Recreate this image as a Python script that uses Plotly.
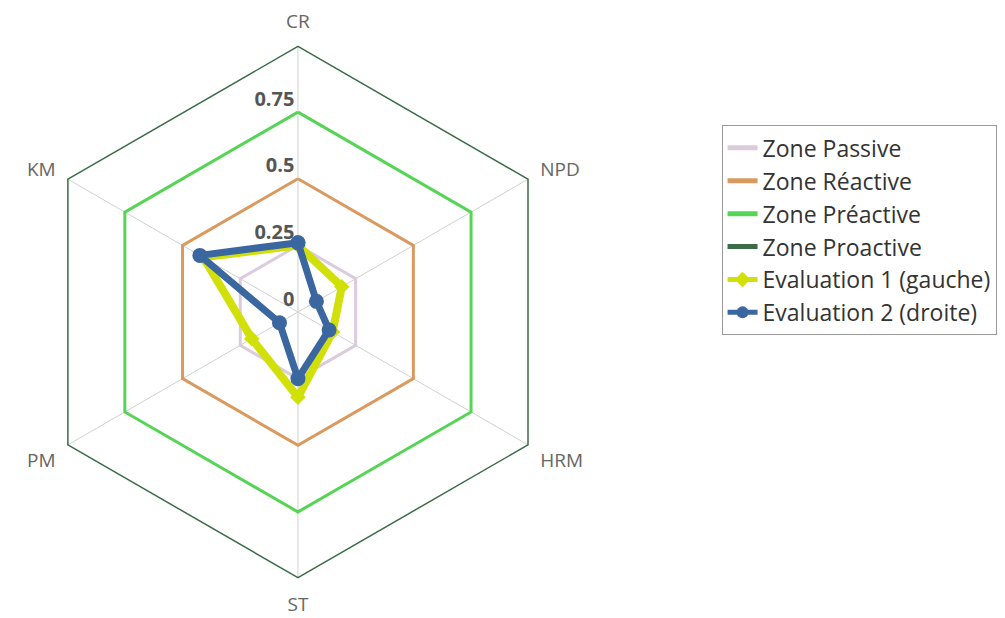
import plotly.graph_objects as go

categories = ["CR", "NPD", "HRM", "ST", "PM", "KM"]

zone_names = ["Zone Passive", "Zone Réactive", "Zone Préactive", "Zone Proactive"]
zone_levels = [0.25, 0.5, 0.75, 1.0]
zone_colors = ["#dccbdc", "#d9995f", "#55d455", "#3b6b47"]

eval1_name = "Evaluation 1 (gauche)"
eval1_values = [0.25, 0.19, 0.15, 0.32, 0.20, 0.41]
eval2_name = "Evaluation 2 (droite)"
eval2_values = [0.26, 0.08, 0.135, 0.25, 0.08, 0.425]

radial_ticks = [0, 0.25, 0.5, 0.75]
radial_ticktext = ["0", "0.25", "0.5", "0.75"]

closed_cats = categories + [categories[0]]

fig = go.Figure()

for name, lvl, col in zip(zone_names, zone_levels, zone_colors):
    fig.add_trace(go.Scatterpolar(
        r=[lvl] * len(closed_cats),
        theta=closed_cats,
        mode="lines",
        name=name,
        line=dict(color=col, width=3),
        hoverinfo="skip",
    ))

fig.add_trace(go.Scatterpolar(
    r=eval1_values + [eval1_values[0]],
    theta=closed_cats,
    mode="lines+markers",
    name=eval1_name,
    line=dict(color="#d2e00a", width=8),
    marker=dict(symbol="diamond", size=12, color="#d2e00a"),
))

fig.add_trace(go.Scatterpolar(
    r=eval2_values + [eval2_values[0]],
    theta=closed_cats,
    mode="lines+markers",
    name=eval2_name,
    line=dict(color="#3b67a0", width=7),
    marker=dict(symbol="circle", size=15, color="#3b67a0"),
))

fig.update_layout(
    width=1005,
    height=618,
    margin=dict(l=0, r=0, t=0, b=0),
    paper_bgcolor="white",
    plot_bgcolor="white",
    font=dict(family="Open Sans, DejaVu Sans, sans-serif", color="#555555"),
    polar=dict(
        domain=dict(x=[0.0233, 0.5537], y=[0.0768, 0.9393]),
        bgcolor="white",
        gridshape="linear",
        angularaxis=dict(
            direction="clockwise",
            rotation=90,
            categoryorder="array",
            categoryarray=categories,
            showline=False,
            showgrid=True,
            gridcolor="#d0d0d0",
            gridwidth=1,
            ticks="outside",
            ticklen=9,
            tickcolor="rgba(0,0,0,0)",
            tickfont=dict(size=19, color="#666666"),
        ),
        radialaxis=dict(
            range=[0, 1],
            angle=90,
            tickangle=90,
            side="counterclockwise",
            tickvals=radial_ticks,
            ticktext=["<b>%s</b><br> " % t for t in radial_ticktext],
            tickfont=dict(size=20, color="#555555"),
            showgrid=False,
            showline=False,
            ticks="",
        ),
    ),
    legend=dict(
        x=0.71,
        y=0.81,
        xanchor="left",
        yanchor="top",
        bgcolor="white",
        bordercolor="#999999",
        borderwidth=1,
        font=dict(size=23, color="#333333"),
        tracegroupgap=0,
        itemsizing="constant",
    ),
    showlegend=True,
)

fig.write_html("out.html")
